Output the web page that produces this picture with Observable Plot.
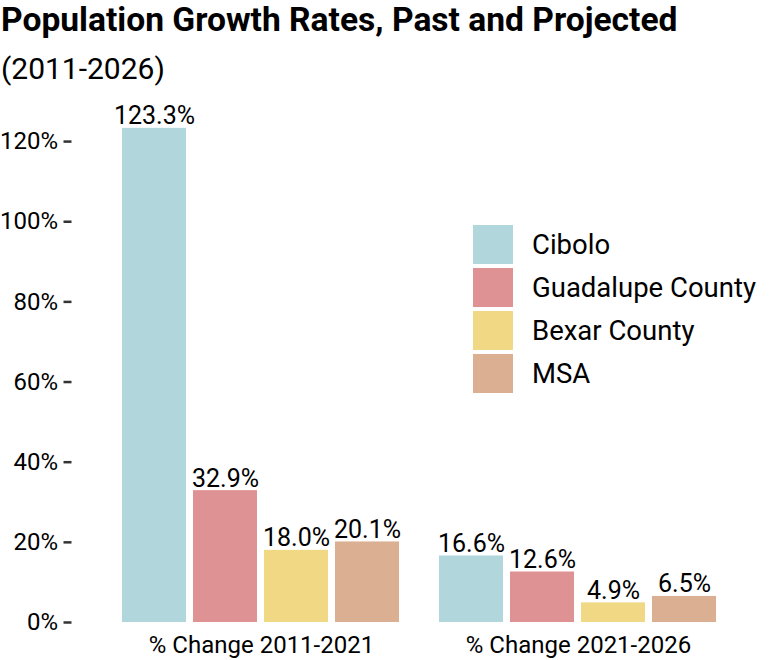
<!DOCTYPE html>
<html>
<head>
<meta charset="utf-8">
<script src="https://cdn.jsdelivr.net/npm/d3@7"></script>
<script src="https://cdn.jsdelivr.net/npm/@observablehq/plot@0.6"></script>
<style>
  html, body { margin: 0; padding: 0; background: #fff; }
  body { font-family: Roboto, "Noto Sans", sans-serif; width: 770px; height: 660px; position: relative; overflow: hidden; }
  #title { font-weight: 700; font-size: 33.6px; height: 40px; line-height: 40px; padding-left: 1px; color: #000; white-space: nowrap; }
  #subtitle { font-size: 30px; height: 50px; line-height: 50px; position: relative; top: 4px; padding-left: 1px; color: #000; }
  #legend { position: absolute; left: 473px; top: 225px; font-size: 27.5px; color: #000; }
  .row { display: flex; align-items: center; height: 39px; margin-bottom: 4px; }
  .sw { width: 40px; height: 39px; margin-right: 19px; }
</style>
</head>
<body>
<div id="title">Population Growth Rates, Past and Projected</div>
<div id="subtitle">(2011-2026)</div>
<div id="chart"></div>
<div id="legend"></div>
<script>
const periods = ["% Change 2011-2021", "% Change 2021-2026"];
const regions = ["Cibolo", "Guadalupe County", "Bexar County", "MSA"];
const change20112021 = [123.3, 32.9, 18.0, 20.1];
const change20212026 = [16.6, 12.6, 4.9, 6.5];
const colors = ["#b1d6dc", "#de9294", "#f0d885", "#dbaf91"];
const yTicks = [0, 20, 40, 60, 80, 100, 120];

const data = [];
[change20112021, change20212026].forEach((vals, i) => {
  vals.forEach((v, j) => data.push({period: periods[i], region: regions[j], value: v}));
});

const chart = Plot.plot({
  width: 770,
  height: 572,
  marginLeft: 70,
  marginRight: 0,
  marginTop: 13,
  marginBottom: 40,
  style: {fontFamily: "Roboto, sans-serif", fontSize: "24px", color: "#000", background: "#fff"},
  fx: {domain: periods, paddingInner: 0.1226, paddingOuter: 0.162, label: null, tickSize: 0, tickPadding: 13},
  x: {domain: regions, paddingInner: 0.098, paddingOuter: 0, axis: null},
  y: {domain: [0, 129.5], nice: false, label: null, axis: null},
  color: {domain: regions, range: colors},
  marks: [
    Plot.axisY({ticks: yTicks, tickFormat: d => d + "%", tickSize: 8, tickPadding: 6, dx: -50.5, label: null, stroke: "#333", strokeWidth: 2.5, fontSize: 24}),
    Plot.barY(data, {fx: "period", x: "region", y: "value", fill: "region"}),
    Plot.text(data, {fx: "period", x: "region", y: "value", text: d => d.value.toFixed(1) + "%", lineAnchor: "bottom", dy: -4, fontSize: 25, fill: "#000"})
  ]
});
document.getElementById("chart").appendChild(chart);

const legend = document.getElementById("legend");
regions.forEach((r, i) => {
  const row = document.createElement("div");
  row.className = "row";
  const sw = document.createElement("div");
  sw.className = "sw";
  sw.style.background = colors[i];
  const lab = document.createElement("span");
  lab.textContent = r;
  row.appendChild(sw);
  row.appendChild(lab);
  legend.appendChild(row);
});
</script>
</body>
</html>
